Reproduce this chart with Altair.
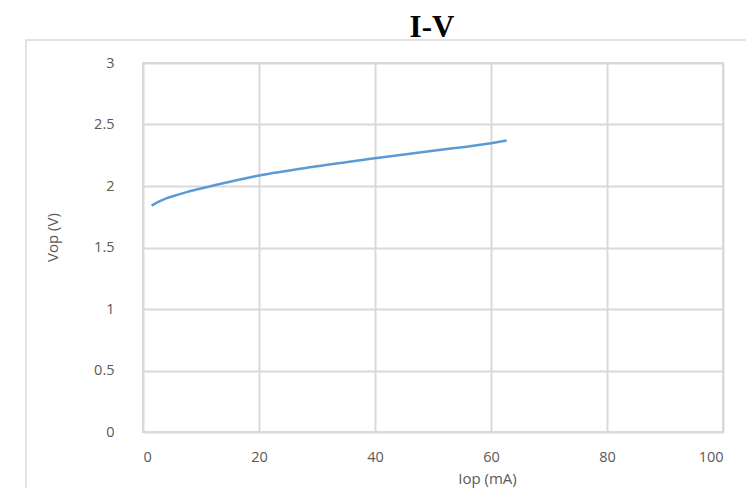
import altair as alt
import pandas as pd

iop = [1.5, 2, 3, 4, 5, 7.5, 10, 15, 20, 30, 40, 50, 60, 62.7]
vop = [1.84, 1.855, 1.88, 1.90, 1.915, 1.95, 1.98, 2.035, 2.085, 2.16, 2.225, 2.287, 2.348, 2.37]
title_text = ["I-V"]

df = pd.DataFrame({"Iop": iop, "Vop": vop})

FONT = "Open Sans"
GRAY = "#595959"

border = alt.Chart(pd.DataFrame({"a": [0]})).mark_rect(
    fill="transparent", stroke="#d9d9d9", strokeWidth=1.5, clip=False
).encode(
    x=alt.value(-117), x2=alt.value(700),
    y=alt.value(-23), y2=alt.value(500)
)

title = alt.Chart(pd.DataFrame({"t": title_text})).mark_text(
    font="Liberation Serif", fontSize=31, fontWeight="bold", color="#000000",
    align="center", baseline="alphabetic", clip=False
).encode(text="t:N", x=alt.value(289), y=alt.value(-26.5))

line = alt.Chart(df).mark_line(
    color="#5b9bd5", strokeWidth=2.5, interpolate="monotone"
).encode(
    x=alt.X("Iop:Q", scale=alt.Scale(domain=[0, 100], nice=False),
            axis=alt.Axis(values=[0, 20, 40, 60, 80, 100], title="Iop (mA)",
                          ticks=False, domain=False, grid=True,
                          gridColor="#d9d9d9", gridWidth=2,
                          labelFont=FONT, labelFontSize=14.5, labelColor=GRAY,
                          labelPadding=25, labelBaseline="middle",
                          titleFont=FONT, titleFontSize=15, titleColor=GRAY,
                          titleFontWeight="normal", titleX=344, titleY=46,
                          titleBaseline="middle")),
    y=alt.Y("Vop:Q", scale=alt.Scale(domain=[0, 3], nice=False),
            axis=alt.Axis(values=[0, 0.5, 1, 1.5, 2, 2.5, 3], title="Vop (V)",
                          format="~g",
                          ticks=False, domain=False, grid=True,
                          gridColor="#d9d9d9", gridWidth=2,
                          labelFont=FONT, labelFontSize=14.5, labelColor=GRAY,
                          labelPadding=29,
                          titleFont=FONT, titleFontSize=15, titleColor=GRAY,
                          titleFontWeight="normal", titleX=-91, titleY=174,
                          titleBaseline="middle"))
)

chart = alt.layer(border, title, line).properties(
    width=580, height=369,
    padding={"left": 135, "top": 55, "right": 23, "bottom": 56},
    autosize=alt.AutoSizeParams(type="none")
).configure_view(stroke="#d9d9d9", strokeWidth=2)

chart.save("out.html", embed_options={"renderer": "svg", "actions": False})
